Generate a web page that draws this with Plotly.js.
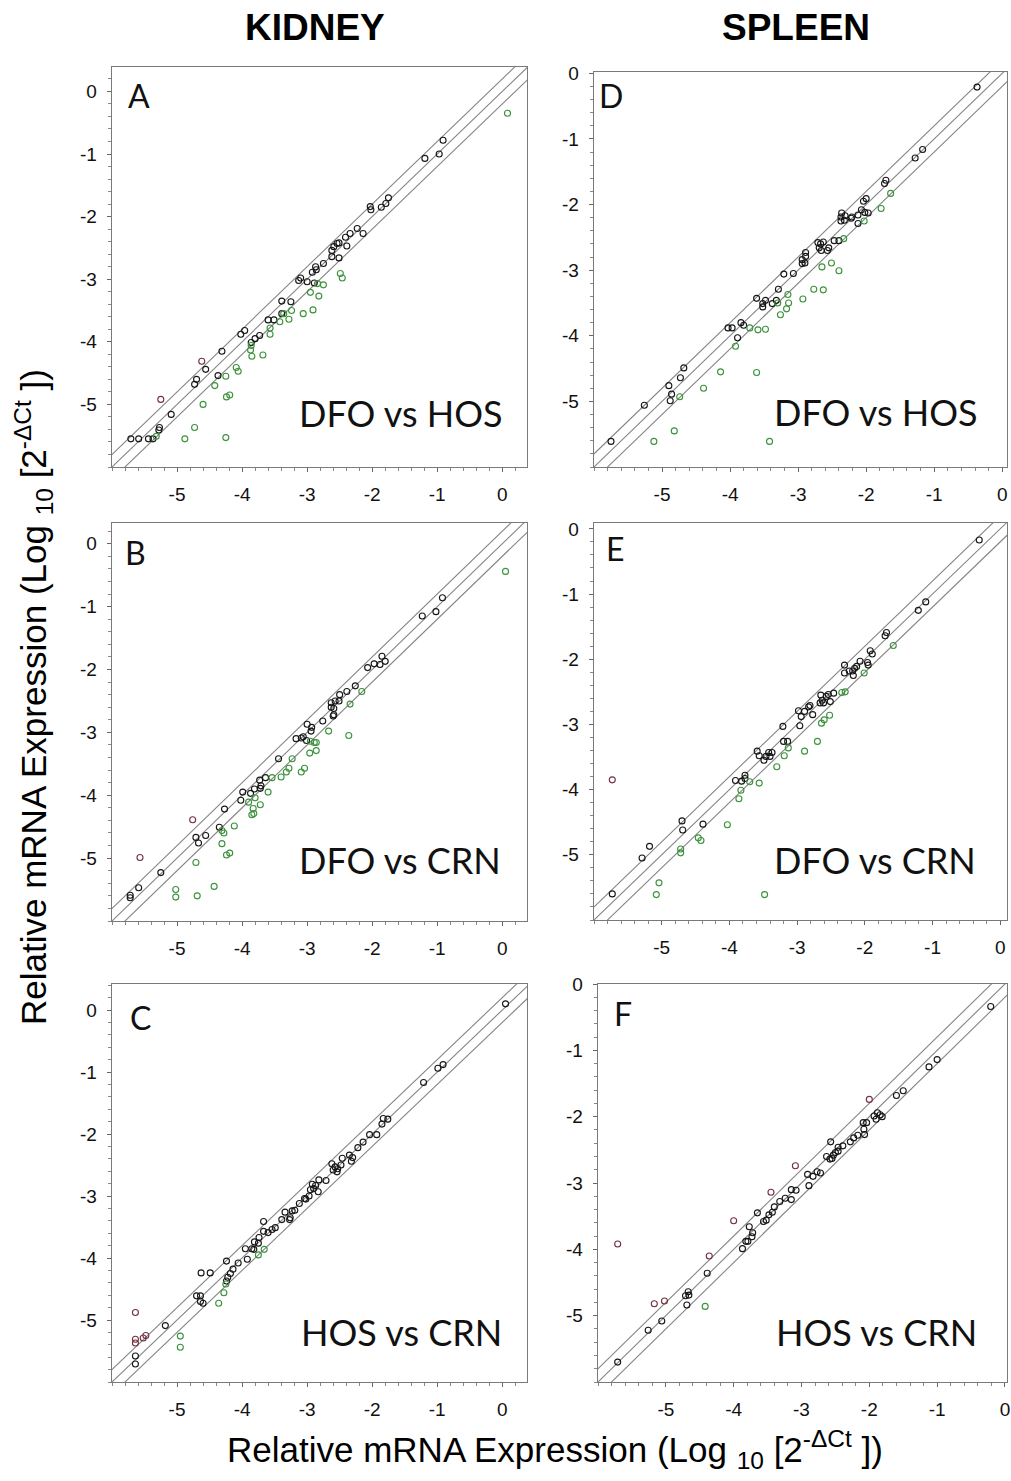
<!DOCTYPE html>
<html><head><meta charset="utf-8">
<script src="https://cdn.plot.ly/plotly-3.0.1.min.js"></script>
<style>html,body{margin:0;padding:0;background:#fff}</style>
</head><body><div id="chart" style="width:1011px;height:1481px"></div>
<script>
// ---------- DATA (x = first condition, y = second condition), Log10[2^-dCt] ----------
const columnTitles = ['KIDNEY', 'SPLEEN'];
const panelLetters = ['A', 'D', 'B', 'E', 'C', 'F'];
const comparisons = ['DFO vs HOS', 'DFO vs HOS', 'DFO vs CRN', 'DFO vs CRN', 'HOS vs CRN', 'HOS vs CRN'];
const tickVals = [-5, -4, -3, -2, -1, 0];
const tickText = ['-5', '-4', '-3', '-2', '-1', '0'];
const foldOffsets = [0.2, 0, -0.2];
const diagX = [-7, 1];

// Panel A: kidney DFO vs HOS
const A_black = [[-0.91,-0.78],[-1.19,-1.07],[-0.97,-1.00],[-2.03,-1.84],[-2.02,-1.89],[-1.86,-1.85],[-1.79,-1.79],[-1.75,-1.70],[-2.14,-2.27],[-2.23,-2.19],[-2.34,-2.27],[-2.41,-2.33],[-2.39,-2.47],[-2.51,-2.42],[-2.54,-2.43],[-2.59,-2.48],[-2.62,-2.54],[-2.62,-2.64],[-2.51,-2.66],[-2.75,-2.75],[-2.87,-2.80],[-2.92,-2.89],[-2.86,-2.85],[-2.89,-3.06],[-3.13,-3.02],[-3.10,-2.98],[-3.00,-3.04],[-3.39,-3.35],[-3.25,-3.36],[-3.39,-3.55],[-3.60,-3.65],[-3.51,-3.65],[-3.73,-3.90],[-3.80,-3.95],[-3.86,-4.01],[-4.02,-3.88],[-3.96,-3.82],[-4.31,-4.15],[-4.37,-4.54],[-4.56,-4.44],[-4.70,-4.60],[-4.73,-4.68],[-5.09,-5.16],[-5.27,-5.37],[-5.28,-5.41],[-5.71,-5.55],[-5.59,-5.55],[-5.44,-5.55],[-5.37,-5.55]];
const A_red = [[-4.62,-4.31],[-5.25,-4.92]];
const A_green = [[0.08,-0.35],[-2.49,-2.91],[-2.46,-2.98],[-2.84,-3.07],[-2.75,-3.09],[-2.95,-3.21],[-2.82,-3.27],[-2.91,-3.49],[-3.06,-3.55],[-3.24,-3.50],[-3.36,-3.55],[-3.28,-3.64],[-3.42,-3.68],[-3.57,-3.78],[-3.57,-3.88],[-3.68,-4.21],[-3.86,-4.06],[-3.87,-4.13],[-3.85,-4.23],[-4.09,-4.41],[-4.06,-4.47],[-4.25,-4.55],[-4.42,-4.70],[-4.19,-4.85],[-4.24,-4.88],[-4.60,-5.00],[-4.73,-5.37],[-4.88,-5.55],[-4.25,-5.53],[-5.32,-5.51]];

// Panel D: spleen DFO vs HOS
const D_black = [[-0.37,-0.21],[-1.17,-1.16],[-1.28,-1.29],[-1.71,-1.63],[-1.73,-1.68],[-2.00,-1.91],[-2.04,-1.95],[-2.07,-2.08],[-2.02,-2.12],[-1.97,-2.13],[-2.12,-2.16],[-2.12,-2.29],[-2.21,-2.19],[-2.22,-2.21],[-2.31,-2.17],[-2.36,-2.13],[-2.37,-2.19],[-2.32,-2.24],[-2.37,-2.25],[-2.40,-2.55],[-2.47,-2.55],[-2.55,-2.66],[-2.57,-2.70],[-2.63,-2.57],[-2.67,-2.60],[-2.71,-2.58],[-2.69,-2.66],[-2.66,-2.70],[-2.89,-2.73],[-2.89,-2.79],[-2.94,-2.84],[-2.90,-2.89],[-2.94,-2.90],[-3.07,-3.05],[-3.21,-3.06],[-3.29,-3.29],[-3.32,-3.46],[-3.48,-3.46],[-3.52,-3.51],[-3.52,-3.56],[-3.38,-3.51],[-3.61,-3.43],[-3.84,-3.80],[-3.80,-3.84],[-3.89,-4.03],[-3.97,-3.88],[-4.03,-3.88],[-4.68,-4.49],[-4.73,-4.64],[-4.90,-4.76],[-4.86,-4.89],[-4.88,-4.99],[-5.26,-5.06],[-5.75,-5.61]];
const D_red = [];
const D_green = [[-1.64,-1.83],[-1.78,-2.06],[-2.03,-2.25],[-2.33,-2.52],[-2.40,-3.01],[-2.51,-2.89],[-2.65,-2.95],[-2.63,-3.30],[-2.77,-3.29],[-2.93,-3.44],[-3.15,-3.37],[-3.14,-3.50],[-3.17,-3.59],[-3.30,-3.50],[-3.26,-3.68],[-3.48,-3.90],[-3.59,-3.91],[-3.71,-3.88],[-3.92,-4.16],[-4.14,-4.55],[-3.61,-4.56],[-4.39,-4.80],[-4.74,-4.93],[-4.82,-5.45],[-5.12,-5.61],[-3.42,-5.61]];

// Panel B: kidney DFO vs CRN
const B_black = [[-0.92,-0.86],[-1.23,-1.15],[-1.02,-1.08],[-1.85,-1.79],[-1.80,-1.87],[-1.88,-1.92],[-1.97,-1.91],[-2.07,-1.97],[-2.26,-2.26],[-2.39,-2.35],[-2.50,-2.40],[-2.51,-2.50],[-2.57,-2.50],[-2.63,-2.53],[-2.63,-2.60],[-2.59,-2.62],[-2.59,-2.72],[-2.60,-2.74],[-2.76,-2.82],[-3.00,-2.87],[-2.93,-2.92],[-2.94,-2.98],[-3.01,-3.13],[-3.06,-3.07],[-3.09,-3.09],[-3.17,-3.10],[-3.44,-3.42],[-3.64,-3.72],[-3.73,-3.76],[-3.71,-3.85],[-3.72,-3.89],[-3.81,-3.90],[-3.87,-3.97],[-3.99,-3.95],[-4.02,-4.08],[-4.27,-4.22],[-4.35,-4.51],[-4.56,-4.64],[-4.71,-4.67],[-4.67,-4.76],[-5.25,-5.23],[-5.59,-5.47],[-5.72,-5.59],[-5.72,-5.63]];
const B_red = [[-4.76,-4.39],[-5.57,-4.99]];
const B_green = [[0.05,-0.44],[-2.16,-2.35],[-2.34,-2.55],[-2.67,-2.98],[-2.36,-3.05],[-2.86,-3.16],[-2.89,-3.16],[-2.95,-3.14],[-2.86,-3.29],[-2.96,-3.33],[-3.23,-3.42],[-3.28,-3.57],[-3.32,-3.63],[-3.40,-3.71],[-3.54,-3.72],[-3.04,-3.57],[-3.09,-3.63],[-3.60,-3.95],[-3.72,-4.15],[-3.80,-4.04],[-3.90,-4.11],[-3.83,-4.21],[-3.82,-4.29],[-3.85,-4.31],[-4.12,-4.49],[-4.31,-4.56],[-4.28,-4.60],[-4.31,-4.77],[-4.19,-4.92],[-4.24,-4.95],[-4.71,-5.07],[-4.43,-5.45],[-5.02,-5.50],[-5.02,-5.62],[-4.69,-5.60]];

// Panel E: spleen DFO vs CRN
const E_black = [[-0.31,-0.17],[-1.10,-1.12],[-1.21,-1.25],[-1.68,-1.59],[-1.70,-1.64],[-1.92,-1.87],[-1.89,-1.92],[-1.96,-2.05],[-1.95,-2.09],[-2.07,-2.03],[-2.12,-2.11],[-2.15,-2.14],[-2.18,-2.18],[-2.17,-2.25],[-2.23,-2.18],[-2.30,-2.09],[-2.30,-2.21],[-2.46,-2.52],[-2.51,-2.65],[-2.54,-2.54],[-2.57,-2.57],[-2.61,-2.67],[-2.63,-2.63],[-2.65,-2.55],[-2.66,-2.67],[-2.77,-2.85],[-2.81,-2.71],[-2.83,-2.73],[-2.89,-2.80],[-2.94,-2.88],[-2.98,-2.79],[-2.96,-3.02],[-3.21,-3.03],[-3.20,-3.26],[-3.14,-3.26],[-3.37,-3.43],[-3.42,-3.43],[-3.40,-3.49],[-3.46,-3.49],[-3.49,-3.55],[-3.56,-3.48],[-3.59,-3.41],[-3.77,-3.78],[-3.77,-3.83],[-3.82,-3.87],[-3.91,-3.86],[-4.39,-4.53],[-4.69,-4.62],[-4.70,-4.48],[-5.18,-4.87],[-5.29,-5.05],[-5.73,-5.60]];
const E_red = [[-5.73,-3.85]];
const E_green = [[-1.58,-1.79],[-2.01,-2.21],[-2.29,-2.50],[-2.34,-2.51],[-2.52,-2.86],[-2.60,-2.93],[-2.64,-2.98],[-2.70,-3.26],[-2.89,-3.41],[-3.13,-3.36],[-3.19,-3.48],[-3.30,-3.65],[-3.56,-3.90],[-3.70,-3.88],[-3.83,-4.01],[-3.86,-4.14],[-4.03,-4.54],[-4.42,-4.78],[-4.46,-4.74],[-4.72,-4.91],[-4.72,-4.97],[-5.04,-5.43],[-5.08,-5.61],[-3.48,-5.61]];

// Panel C: kidney HOS vs CRN
const C_black = [[0.05,0.10],[-0.91,-0.88],[-0.99,-0.94],[-1.21,-1.17],[-1.76,-1.76],[-1.83,-1.75],[-1.85,-1.84],[-1.93,-2.01],[-2.04,-2.01],[-2.14,-2.13],[-2.22,-2.22],[-2.30,-2.38],[-2.32,-2.44],[-2.35,-2.34],[-2.46,-2.39],[-2.48,-2.50],[-2.54,-2.61],[-2.53,-2.56],[-2.57,-2.53],[-2.62,-2.48],[-2.60,-2.58],[-2.71,-2.75],[-2.82,-2.74],[-2.83,-2.93],[-2.87,-2.83],[-2.90,-2.88],[-2.92,-2.81],[-2.95,-2.90],[-2.97,-3.00],[-3.02,-3.05],[-3.04,-3.04],[-3.12,-3.12],[-3.19,-3.23],[-3.23,-3.24],[-3.26,-3.35],[-3.27,-3.38],[-3.34,-3.26],[-3.39,-3.38],[-3.49,-3.51],[-3.54,-3.54],[-3.60,-3.59],[-3.67,-3.57],[-3.67,-3.41],[-3.74,-3.67],[-3.75,-3.76],[-3.81,-3.74],[-3.82,-3.86],[-3.85,-3.85],[-3.95,-3.85],[-3.92,-4.02],[-4.06,-4.08],[-4.14,-4.18],[-4.18,-4.25],[-4.22,-4.31],[-4.24,-4.37],[-4.24,-4.05],[-4.49,-4.24],[-4.63,-4.24],[-4.64,-4.61],[-4.70,-4.61],[-4.64,-4.70],[-4.60,-4.73],[-5.18,-5.09],[-5.64,-5.58],[-5.64,-5.71]];
const C_red = [[-5.64,-4.88],[-5.64,-5.31],[-5.64,-5.37],[-5.52,-5.29],[-5.48,-5.25]];
const C_green = [[-3.75,-3.95],[-3.66,-3.86],[-4.25,-4.42],[-4.28,-4.56],[-4.36,-4.73],[-4.95,-5.26],[-4.95,-5.44]];

// Panel F: spleen HOS vs CRN
const F_black = [[-0.21,-0.34],[-1.00,-1.14],[-1.12,-1.25],[-1.50,-1.61],[-1.60,-1.68],[-1.81,-2.00],[-1.84,-1.97],[-1.88,-1.94],[-1.90,-2.04],[-1.93,-1.99],[-2.04,-2.09],[-2.09,-2.09],[-2.08,-2.19],[-2.07,-2.27],[-2.17,-2.28],[-2.23,-2.32],[-2.28,-2.38],[-2.39,-2.44],[-2.46,-2.46],[-2.46,-2.52],[-2.50,-2.54],[-2.53,-2.58],[-2.57,-2.38],[-2.58,-2.64],[-2.63,-2.60],[-2.55,-2.63],[-2.72,-2.85],[-2.77,-2.83],[-2.83,-2.90],[-2.91,-2.87],[-2.89,-3.04],[-3.08,-3.11],[-3.15,-3.10],[-3.15,-3.25],[-3.24,-3.23],[-3.32,-3.28],[-3.40,-3.36],[-3.43,-3.44],[-3.48,-3.48],[-3.52,-3.56],[-3.56,-3.58],[-3.65,-3.45],[-3.77,-3.66],[-3.72,-3.75],[-3.73,-3.81],[-3.79,-3.88],[-3.82,-3.88],[-3.87,-3.99],[-4.39,-4.36],[-4.67,-4.64],[-4.66,-4.69],[-4.71,-4.70],[-4.69,-4.84],[-5.06,-5.08],[-5.26,-5.22],[-5.71,-5.70]];
const F_red = [[-3.09,-2.74],[-3.45,-3.14],[-4.00,-3.57],[-4.36,-4.10],[-2.00,-1.74],[-5.17,-4.82],[-5.02,-4.78],[-5.71,-3.92]];
const F_green = [[-4.42,-4.86]];

// ---------- LAYOUT / STYLE ----------
const W = 1011, H = 1481;
const px = v => v / W, py = v => 1 - v / H;
const NARROW = '"Liberation Sans Narrow", "Arial Narrow", "Liberation Sans", Arial, sans-serif';
const LABELFONT = 'Lato, "Open Sans", "Noto Sans", sans-serif';
const COL = {black: '#161616', green: '#3a923a', red: '#74303e'};

// panel boxes in pixels: [left, right, top, bottom] + axis ranges
const panels = [
  {sfx: '',  box: [112, 527, 67, 467],   xr: [-6, 0.38], yr: [-6, 0.39], data: [A_black, A_green, A_red], letterPos: [139, 96],  labPos: [505, 413]},
  {sfx: '2', box: [594, 1007, 72, 467],  xr: [-6, 0.07], yr: [-6, 0.02], data: [D_black, D_green, D_red], letterPos: [611, 96],  labPos: [980, 412]},
  {sfx: '3', box: [112, 527, 523, 921],  xr: [-6, 0.38], yr: [-6, 0.33], data: [B_black, B_green, B_red], letterPos: [135, 553], labPos: [503, 860]},
  {sfx: '4', box: [594, 1007, 523, 920], xr: [-6, 0.1],  yr: [-6, 0.09], data: [E_black, E_green, E_red], letterPos: [615, 548], labPos: [978, 860]},
  {sfx: '5', box: [112, 527, 984, 1382], xr: [-6, 0.38], yr: [-6, 0.42], data: [C_black, C_green, C_red], letterPos: [140, 1017], labPos: [504, 1332]},
  {sfx: '6', box: [598, 1007, 984, 1382],xr: [-6, 0.03], yr: [-6, 0.0],  data: [F_black, F_green, F_red], letterPos: [623, 1013], labPos: [979, 1332]}
];

const traces = [];
const layout = {
  width: W, height: H, margin: {l: 0, r: 0, t: 0, b: 0},
  paper_bgcolor: '#fff', plot_bgcolor: '#fff', showlegend: false,
  annotations: []
};

function axisBase(domain, range, anchor) {
  return {
    domain, range, anchor, autorange: false,
    tickmode: 'array', tickvals: tickVals, ticktext: tickText,
    ticks: 'outside', ticklen: 4, tickwidth: 1, tickcolor: '#666',
    minor: {tickmode: 'linear', tick0: 0, dtick: 0.2, ticks: 'outside', ticklen: 3, tickwidth: 1, tickcolor: '#888', showgrid: false},
    showline: true, linecolor: '#7a7a7a', linewidth: 1.3, mirror: true,
    showgrid: false, zeroline: false,
    tickfont: {family: NARROW, size: 19, color: '#111'},
    ticklabelstandoff: 6
  };
}

const colorOrder = [COL.black, COL.green, COL.red];

panels.forEach((p, i) => {
  const xa = 'x' + p.sfx, ya = 'y' + p.sfx;
  const [l, r, t, b] = p.box;
  layout['xaxis' + p.sfx] = axisBase([px(l), px(r)], p.xr, ya);
  layout['yaxis' + p.sfx] = axisBase([py(b), py(t)], p.yr, xa);

  foldOffsets.forEach(off => {
    traces.push({
      type: 'scatter', mode: 'lines', xaxis: xa, yaxis: ya, hoverinfo: 'skip',
      x: diagX, y: diagX.map(v => v + off),
      line: {color: '#858585', width: 1.1}
    });
  });

  p.data.forEach((set, k) => {
    if (!set.length) return;
    traces.push({
      type: 'scatter', mode: 'markers', xaxis: xa, yaxis: ya,
      x: set.map(d => d[0]), y: set.map(d => d[1]),
      marker: {symbol: 'circle-open', size: 6, color: colorOrder[k], line: {width: 1.1, color: colorOrder[k]}},
      cliponaxis: false
    });
  });

  layout.annotations.push({
    xref: 'paper', yref: 'paper', x: px(p.letterPos[0]), y: py(p.letterPos[1]),
    xanchor: 'center', yanchor: 'middle', showarrow: false,
    text: panelLetters[i], font: {family: LABELFONT, size: 32, color: '#111'}
  });
  layout.annotations.push({
    xref: 'paper', yref: 'paper', x: px(p.labPos[0]), y: py(p.labPos[1]),
    xanchor: 'right', yanchor: 'middle', showarrow: false,
    text: comparisons[i], font: {family: LABELFONT, size: 36, color: '#111'}
  });
});

// column titles
[[315, 28], [796, 28]].forEach((pos, i) => {
  layout.annotations.push({
    xref: 'paper', yref: 'paper', x: px(pos[0]), y: py(pos[1]),
    xanchor: 'center', yanchor: 'middle', showarrow: false,
    text: '<b>' + columnTitles[i] + '</b>', font: {family: NARROW, size: 37, color: '#000'}
  });
});

const axisTitle = 'Relative mRNA Expression (Log <sub>10</sub> [2<sup>-ΔCt</sup> ])';
layout.annotations.push({
  xref: 'paper', yref: 'paper', x: px(555), y: py(1449),
  xanchor: 'center', yanchor: 'middle', showarrow: false,
  text: axisTitle, font: {family: NARROW, size: 35, color: '#000'}
});
layout.annotations.push({
  xref: 'paper', yref: 'paper', x: px(33), y: py(697),
  xanchor: 'center', yanchor: 'middle', showarrow: false, textangle: -90,
  text: axisTitle, font: {family: NARROW, size: 35, color: '#000'}
});

Plotly.newPlot('chart', traces, layout, {staticPlot: true, displayModeBar: false});
</script></body></html>
